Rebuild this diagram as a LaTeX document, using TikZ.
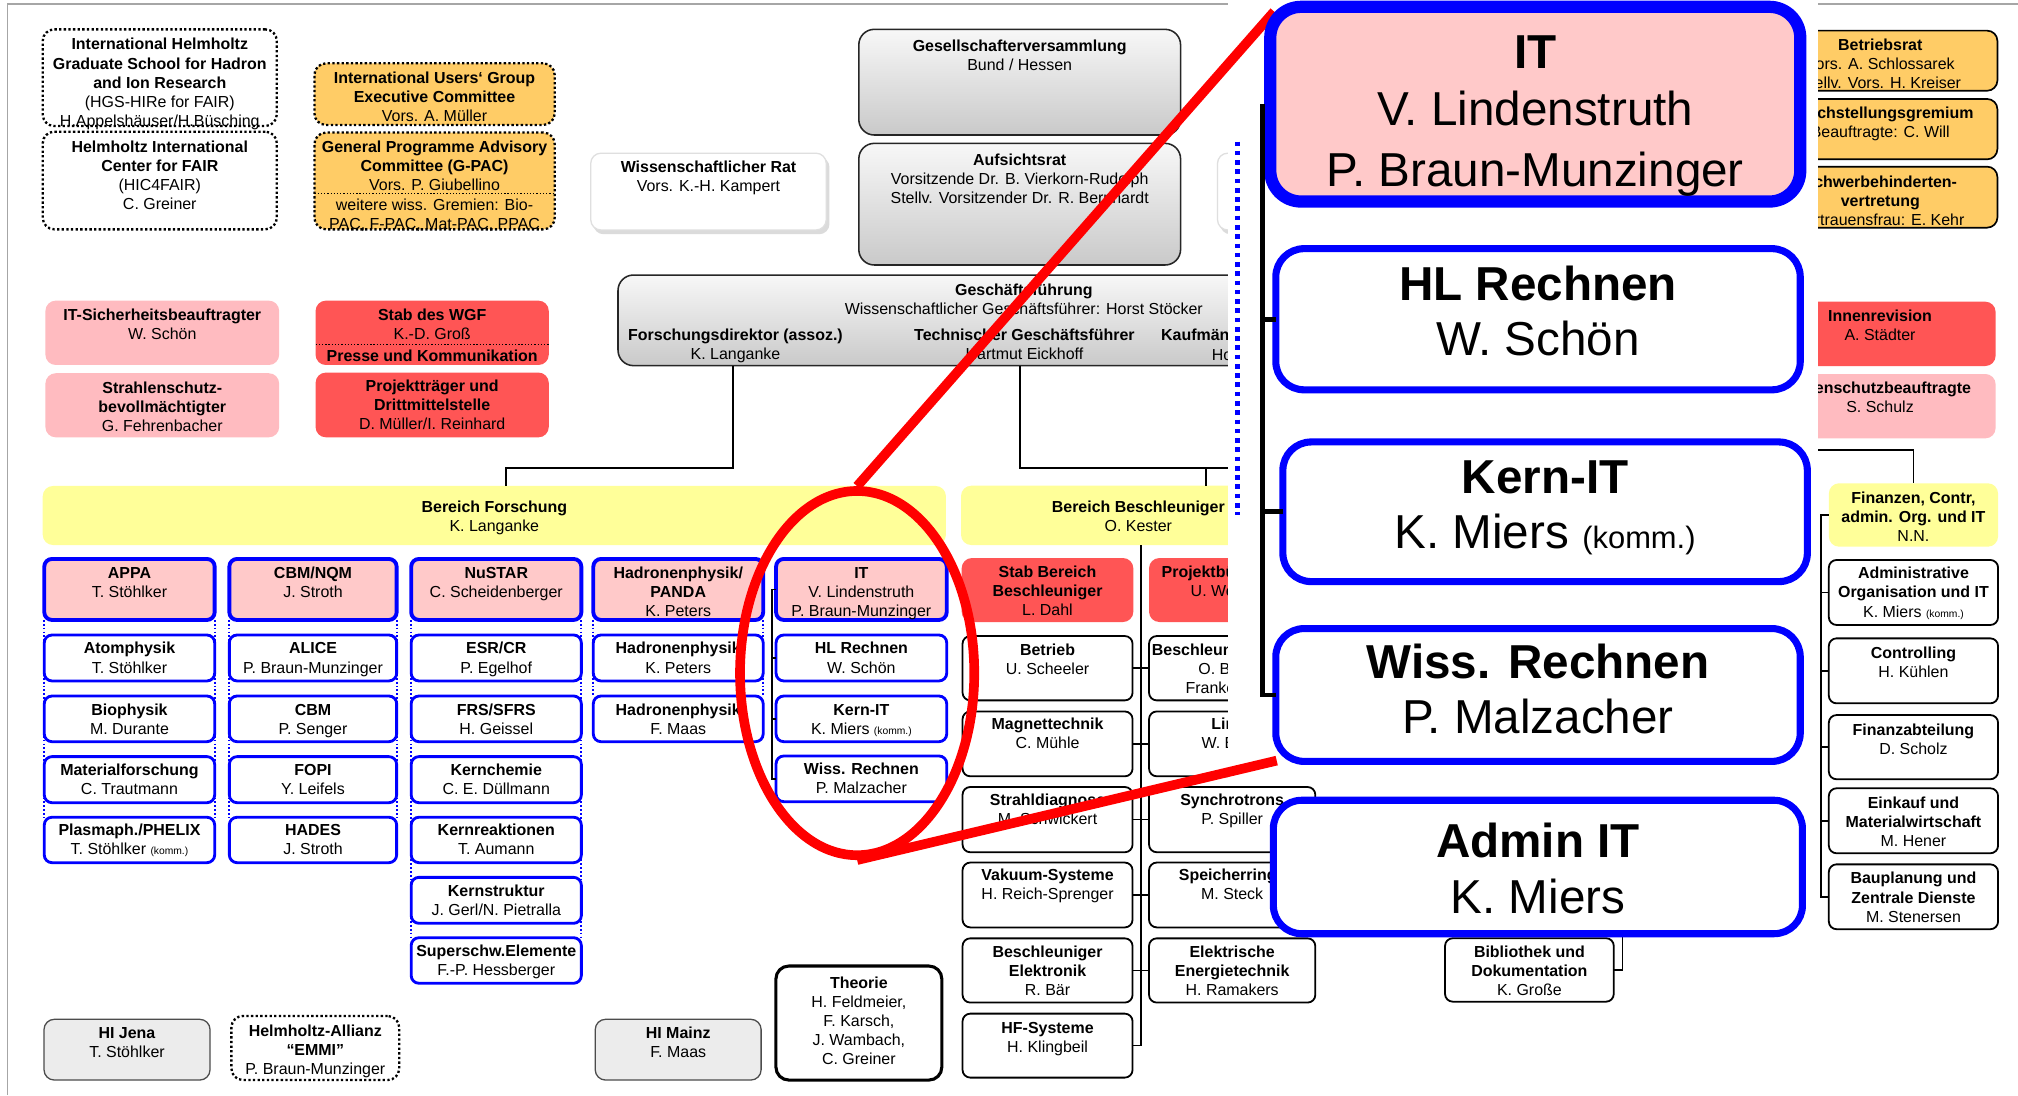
\documentclass[tikz,border=0pt]{standalone}
\usepackage{fontspec}
\setmainfont{Liberation Sans}
\usetikzlibrary{calc,shapes.geometric}
\definecolor{pinkL}{RGB}{255,187,192}
\definecolor{pinkH}{RGB}{255,201,201}
\definecolor{redB}{RGB}{255,85,85}
\definecolor{yelB}{RGB}{255,255,153}
\definecolor{orB}{RGB}{255,204,102}
\definecolor{grayF}{RGB}{236,236,236}
\tikzset{
 txt/.style={font=\fontsize{12.4}{14.8}\selectfont, align=center, inner sep=0pt, outer sep=0pt},
 bigt/.style={font=\fontsize{37}{44}\selectfont, inner sep=0pt, anchor=base},
 shp/.style={rectangle, inner sep=0pt, outer sep=0pt, rounded corners=6},
 fbx/.style={shp, draw=blue, line width=2.2, fill=white},
 fhd/.style={shp, draw=blue, line width=3, fill=pinkH},
 bbx/.style={shp, draw=black, line width=1.4, fill=white},
 gbx/.style={shp, rounded corners=12, draw=black!85, line width=1.2, top color=gray!6, bottom color=gray!42},
 dbx/.style={shp, rounded corners=9, draw=black, line width=1.8, dash pattern=on 1.8pt off 1.8pt, fill=white},
 obx/.style={shp, rounded corners=9, draw=black, line width=1.8, dash pattern=on 1.8pt off 1.8pt, fill=orB},
 osx/.style={shp, rounded corners=8, draw=black, line width=1.3, fill=orB},
 lpk/.style={shp, rounded corners=8, fill=pinkL},
 rdb/.style={shp, rounded corners=8, fill=redB},
 ylw/.style={shp, rounded corners=8, fill=yelB},
 hib/.style={shp, rounded corners=8, draw=black!70, line width=1, fill=grayF},
 thb/.style={shp, rounded corners=10, draw=black, line width=2.4, fill=white},
 wrb/.style={shp, rounded corners=8, draw=gray!25, line width=1, fill=white},
 conn/.style={draw=black, line width=1.6},
 bdot/.style={draw=blue, line width=1.4, dash pattern=on 1.4pt off 1.6pt},
 sepl/.style={draw=black, line width=0.9, dash pattern=on 1pt off 1.5pt},
 bigb/.style={shp, rounded corners=22, draw=blue, line width=5.5, fill=white, anchor=north west},
 bigtree/.style={draw=black, line width=3.6},
 redl/.style={draw=red, line width=7.5},
}
% name, style, x1, y1, x2, y2, first-line centre y, text
\newcommand\orgbox[8]{%
  \node[#2, anchor=north west, minimum width={(#5)-(#3)}, minimum height={(#6)-(#4)}] (#1) at (#3,#4) {};
  \node[txt, anchor=north] (#1-t) at ({((#3)+(#5))/2},{(#7)-5.92}) {\strut #8};
}
\newcommand\kmm{{\fontsize{8}{9}\selectfont (komm.)}}
\begin{document}
\begin{tikzpicture}[x=1pt,y=-1pt]
\fill[white] (0,0) rectangle (1568,851);
\useasboundingbox (0,0) rectangle (1568,851);

\begin{scope}
\clip (0,0) -- (954,0) -- (954,605) -- (1412.6,605) -- (1412.6,0) -- (1568,0) -- (1568,851) -- (0,851) -- cycle;
\draw[gray!70, line width=1.2] (5.7,851) -- (5.7,3.1) -- (1568,3.1);

% top left
\orgbox{hgs}{dbx}{33.2}{22.8}{215.1}{97.9}{34.4}{\textbf{International Helmholtz}\\\textbf{Graduate School for Hadron}\\\textbf{and Ion Research}\\(HGS-HIRe for FAIR)\\H.Appelshäuser/H.Büsching}
\orgbox{hic}{dbx}{33.2}{102.3}{215.1}{178.2}{114}{\textbf{Helmholtz International}\\\textbf{Center for FAIR}\\(HIC4FAIR)\\C. Greiner}
\orgbox{iug}{obx}{244.3}{49.2}{431}{97.1}{60.3}{\textbf{International Users‘ Group}\\\textbf{Executive Committee}\\Vors. A. Müller}
\orgbox{gpac}{obx}{244.3}{103}{431}{178.2}{114}{\textbf{General Programme Advisory}\\\textbf{Committee (G-PAC)}\\Vors. P. Giubellino}
\draw[sepl] (gpac.west |- 0,150.2) -- (gpac.east |- 0,150.2);
\node[txt, anchor=north] (gpac-t2) at (337.65,{159-5.92}) {\strut weitere wiss. Gremien: Bio-\\PAC, F-PAC, Mat-PAC, PPAC};

% Wiss Rat
\fill[gray!28, rounded corners=8] (461,122) rectangle (644.5,182);
\orgbox{wr}{wrb}{459}{119}{642}{178.7}{129.5}{\textbf{Wissenschaftlicher Rat}\\Vors. K.-H. Kampert}
\fill[gray!28, rounded corners=8] (948,122) rectangle (1131,182);
\node[wrb, anchor=north west, minimum width=183, minimum height=59.7] (wr2) at (946,119) {};

\orgbox{gv}{gbx}{667.3}{22.8}{917.3}{104.9}{35.7}{\textbf{Gesellschafterversammlung}\\Bund / Hessen}
\orgbox{ar}{gbx}{667.3}{111.4}{917.3}{205.9}{124.3}{\textbf{Aufsichtsrat}\\Vorsitzende Dr. B. Vierkorn-Rudolph\\Stellv. Vorsitzender Dr. R. Bernhardt}

% Geschaeftsfuehrung
\node[gbx, anchor=north west, minimum width=630, minimum height=70.4] (gf) at (480.2,213.7) {};
\node[txt, anchor=north] (gf-t) at (795.5,{224.8-5.92}) {\strut\textbf{Geschäftsführung}\\Wissenschaftlicher Geschäftsführer: Horst Stöcker};
\node[txt, anchor=north] (gf-f) at (571.5,{260.3-5.92}) {\strut\textbf{Forschungsdirektor (assoz.)}\\K. Langanke};
\node[txt, anchor=north] (gf-tg) at (796,{260.3-5.92}) {\strut\textbf{Technischer Geschäftsführer}\\Hartmut Eickhoff};
\node[txt, anchor=north west] (gf-k) at (902.2,{260.3-5.92}) {\strut\textbf{Kaufmännischer Geschäftsführer}};
\node[txt, anchor=north west] (gf-k2) at (941.6,{275.3-5.92}) {\strut Ho};

% staff boxes left
\orgbox{its}{lpk}{35.3}{233.6}{216.9}{283.6}{244.2}{\textbf{IT-Sicherheitsbeauftragter}\\W. Schön}
\orgbox{sts}{lpk}{35.3}{290}{216.9}{339.8}{301}{\textbf{Strahlenschutz-}\\\textbf{bevollmächtigter}\\G. Fehrenbacher}
\orgbox{wgf}{rdb}{245.2}{233.6}{426.4}{283.6}{244.2}{\textbf{Stab des WGF}\\K.-D. Groß}
\draw[sepl] (wgf.west |- 0,267.5) -- (wgf.east |- 0,267.5);
\node[txt, anchor=north] (wgf-t2) at (335.8,{276.6-5.92}) {\strut\textbf{Presse und Kommunikation}};
\orgbox{ptr}{rdb}{245.2}{289.5}{426.4}{339.8}{299.9}{\textbf{Projektträger und}\\\textbf{Drittmittelstelle}\\D. Müller/I. Reinhard}

% bars
\orgbox{bf}{ylw}{33.2}{377.6}{735}{423.5}{393.7}{\textbf{Bereich Forschung}\\K. Langanke}
\orgbox{bb}{ylw}{746.7}{377.4}{1022.3}{423.5}{393.7}{\textbf{Bereich Beschleuniger}\\O. Kester}

\coordinate (gfA) at (569.2,284.1);
\coordinate (bfA) at (393.3,377.6);
\draw[conn] (gfA) -- ++(0,79.5) -| (bfA);
\coordinate (gfB) at (792.6,284.1);
\coordinate (bbA) at (937,377.4);
\draw[conn] (gfB) -- ++(0,79.5) -| (bbA);
\draw[conn] (bbA) ++(0,-13.8) -- ++(220,0);

% Forschung columns
\orgbox{appa}{fhd}{34.4}{434.3}{166.8}{481.7}{444.7}{\textbf{APPA}\\T. Stöhlker}
\orgbox{atom}{fbx}{34.4}{493.4}{166.8}{529.1}{503.7}{\textbf{Atomphysik}\\T. Stöhlker}
\orgbox{bio}{fbx}{34.4}{540.8}{166.8}{576.3}{551.3}{\textbf{Biophysik}\\M. Durante}
\orgbox{mat}{fbx}{34.4}{587.9}{166.8}{623.7}{598.3}{\textbf{Materialforschung}\\C. Trautmann}
\orgbox{pla}{fbx}{34.4}{635}{166.8}{670.3}{645}{\textbf{Plasmaph./PHELIX}\\T. Stöhlker \kmm}

\orgbox{cbmn}{fhd}{178.2}{434.3}{308.2}{481.7}{444.7}{\textbf{CBM/NQM}\\J. Stroth}
\orgbox{alice}{fbx}{178.2}{493.4}{308.2}{529.1}{503.7}{\textbf{ALICE}\\P. Braun-Munzinger}
\orgbox{cbm}{fbx}{178.2}{540.8}{308.2}{576.3}{551.3}{\textbf{CBM}\\P. Senger}
\orgbox{fopi}{fbx}{178.2}{587.9}{308.2}{623.7}{598.3}{\textbf{FOPI}\\Y. Leifels}
\orgbox{hades}{fbx}{178.2}{635}{308.2}{670.3}{645}{\textbf{HADES}\\J. Stroth}

\orgbox{nustar}{fhd}{319.5}{434.3}{451.7}{481.7}{444.7}{\textbf{NuSTAR}\\C. Scheidenberger}
\orgbox{esr}{fbx}{319.5}{493.4}{451.7}{529.1}{503.7}{\textbf{ESR/CR}\\P. Egelhof}
\orgbox{frs}{fbx}{319.5}{540.8}{451.7}{576.3}{551.3}{\textbf{FRS/SFRS}\\H. Geissel}
\orgbox{kch}{fbx}{319.5}{587.9}{451.7}{623.7}{598.3}{\textbf{Kernchemie}\\C. E. Düllmann}
\orgbox{kre}{fbx}{319.5}{635}{451.7}{670.3}{645}{\textbf{Kernreaktionen}\\T. Aumann}
\orgbox{kst}{fbx}{319.5}{681.7}{451.7}{717.4}{692.3}{\textbf{Kernstruktur}\\J. Gerl/N. Pietralla}
\orgbox{she}{fbx}{319.5}{728.6}{451.7}{764}{739}{\textbf{Superschw.Elemente}\\F.-P. Hessberger}

\orgbox{panda}{fhd}{461}{434.3}{593}{481.7}{444.7}{\textbf{Hadronenphysik/}\\\textbf{PANDA}\\K. Peters}
\orgbox{had1}{fbx}{461}{493.4}{593}{529.1}{503.7}{\textbf{Hadronenphysik}\\K. Peters}
\orgbox{had2}{fbx}{461}{540.8}{593}{576.3}{551.3}{\textbf{Hadronenphysik}\\F. Maas}

\orgbox{ith}{fhd}{603}{434.3}{735.6}{481.7}{444.7}{\textbf{IT}\\V. Lindenstruth\\P. Braun-Munzinger}
\orgbox{ithl}{fbx}{603}{493.4}{735.6}{529.1}{503.7}{\textbf{HL Rechnen}\\W. Schön}
\orgbox{itk}{fbx}{603}{540.8}{735.6}{576.3}{551.3}{\textbf{Kern-IT}\\K. Miers \kmm}
\orgbox{itw}{fbx}{603}{587.4}{735.6}{622.9}{597}{\textbf{Wiss. Rechnen}\\P. Malzacher}

\foreach \a/\b in {appa/pla, cbmn/hades, nustar/she, panda/had2} {
  \draw[bdot] (\a.south west) -- (\b.north west);
  \draw[bdot] (\a.south east) -- (\b.north east);
}
\coordinate (sitx) at (599.6,0);
\draw[conn, line width=1.3] (ith.west) -- (sitx |- ith.west) -- (sitx |- itw.west) -- (itw.west);
\foreach \n in {ithl, itk} \draw[conn, line width=1.3] (sitx |- \n.west) -- (\n.west);

% Beschleuniger
\orgbox{sbb}{rdb}{747.2}{433.6}{880.6}{483.3}{444.4}{\textbf{Stab Bereich}\\\textbf{Beschleuniger}\\L. Dahl}
\node[rdb, anchor=north west, minimum width=133.4, minimum height=49.7] (pbu) at (892.8,433.6) {};
\node[txt, anchor=north west] (pbu-t) at (902.6,{444.4-5.92}) {\strut\textbf{Projektbüro}};
\node[txt, anchor=north west] (pbu-t2) at (925.2,{458.8-5.92}) {\strut U. Weinrich};

\orgbox{betr}{bbx}{747.9}{494.2}{880}{544.2}{504.9}{\textbf{Betrieb}\\U. Scheeler}
\orgbox{magn}{bbx}{747.9}{552.8}{880}{603.2}{562.6}{\textbf{Magnettechnik}\\C. Mühle}
\orgbox{strd}{bbx}{747.9}{611.5}{880}{662.2}{621.6}{\textbf{Strahldiagnose}\\M. Schwickert}
\orgbox{vak}{bbx}{747.9}{670.2}{880}{720.6}{680}{\textbf{Vakuum-Systeme}\\H. Reich-Sprenger}
\orgbox{bel}{bbx}{747.9}{729.1}{880}{779}{739.3}{\textbf{Beschleuniger}\\\textbf{Elektronik}\\R. Bär}
\orgbox{hfs}{bbx}{747.9}{787.6}{880}{837.3}{798.3}{\textbf{HF-Systeme}\\H. Klingbeil}
\orgbox{bph}{bbx}{892.8}{494.2}{1022}{544.2}{504.9}{\textbf{Beschleunigerphysik}\\O. Boine-\\Frankenheim}
\orgbox{lin}{bbx}{892.8}{552.8}{1022}{603.2}{562.6}{\textbf{Linac}\\W. Barth}
\orgbox{syn}{bbx}{892.8}{611.5}{1022}{662.2}{621.6}{\textbf{Synchrotrons}\\P. Spiller}
\orgbox{spr}{bbx}{892.8}{670.2}{1022}{720.6}{680}{\textbf{Speicherringe}\\M. Steck}
\orgbox{eet}{bbx}{892.8}{729.1}{1022}{779}{739.3}{\textbf{Elektrische}\\\textbf{Energietechnik}\\H. Ramakers}
\coordinate (btx) at (886.3,0);
\draw[conn, line width=1.3] (bb.south -| btx) -- (btx |- hfs.east) -- (hfs.east);
\foreach \a/\b in {betr/bph, magn/lin, strd/syn, vak/spr, bel/eet} \draw[conn, line width=1.3] (\a.east) -- (\b.west);

\orgbox{bib}{bbx}{1122.8}{729}{1253.9}{778.3}{739.3}{\textbf{Bibliothek und}\\\textbf{Dokumentation}\\K. Große}
\coordinate (bibx) at (1260.7,700);
\draw[conn, line width=1.3] (bibx) |- (bib.east);

% right column
\orgbox{brat}{osx}{1370}{23.8}{1552}{70.5}{35}{\textbf{Betriebsrat}\\Vors. A. Schlossarek\\Stellv. Vors. H. Kreiser}
\orgbox{glg}{osx}{1370}{76.9}{1552}{123.8}{87.5}{\textbf{Gleichstellungsgremium}\\Beauftragte: C. Will}
\orgbox{swb}{osx}{1370}{129.5}{1552}{176.9}{141.2}{\textbf{Schwerbehinderten-}\\\textbf{vertretung}\\Vertrauensfrau: E. Kehr}
\orgbox{irev}{rdb}{1371}{234.4}{1550.6}{284.4}{245.3}{\textbf{Innenrevision}\\A. Städter}
\orgbox{dsb}{lpk}{1371}{290.6}{1550.6}{340.6}{301.1}{\textbf{Datenschutzbeauftragte}\\S. Schulz}

\orgbox{fin}{ylw}{1421}{375.5}{1552.5}{424.8}{386.4}{\textbf{Finanzen, Contr,}\\\textbf{admin. Org. und IT}\\N.N.}
\orgbox{aorg}{bbx}{1421}{435.1}{1552.5}{485.6}{445.4}{\textbf{Administrative}\\\textbf{Organisation und IT}\\K. Miers \kmm}
\orgbox{ctr}{bbx}{1421}{496}{1552.5}{546.5}{507.4}{\textbf{Controlling}\\H. Kühlen}
\orgbox{fab}{bbx}{1421}{555.6}{1552.5}{605.5}{566.8}{\textbf{Finanzabteilung}\\D. Scholz}
\orgbox{ein}{bbx}{1421}{612.5}{1552.5}{663}{623.4}{\textbf{Einkauf und}\\\textbf{Materialwirtschaft}\\M. Hener}
\orgbox{bau}{bbx}{1421}{671.6}{1552.5}{722}{682.4}{\textbf{Bauplanung und}\\\textbf{Zentrale Dienste}\\M. Stenersen}
\coordinate (kA) at (1300,349.4);
\draw[conn, line width=1.3] (kA) -| (fin.north);
\coordinate (ktx) at (1414.7,0);
\draw[conn, line width=1.3] (fin.west) -- (ktx |- fin.west) -- (ktx |- bau.west) -- (bau.west);
\foreach \n in {aorg,ctr,fab,ein} \draw[conn, line width=1.3] (ktx |- \n.west) -- (\n.west);

% bottom
\orgbox{jena}{hib}{34.2}{792}{163.2}{839.2}{802.4}{\textbf{HI Jena}\\T. Stöhlker}
\orgbox{emmi}{dbx}{179.8}{789.4}{310.2}{839.2}{800.8}{\textbf{Helmholtz-Allianz}\\\textbf{“EMMI”}\\P. Braun-Munzinger}
\orgbox{mainz}{hib}{462.5}{792}{591.4}{839.2}{802.4}{\textbf{HI Mainz}\\F. Maas}
\orgbox{theo}{thb}{602.9}{750.6}{731.8}{839.2}{763.5}{\textbf{Theorie}\\H. Feldmeier,\\F. Karsch,\\J. Wambach,\\C. Greiner}
\end{scope}

% red highlight
\node[ellipse, draw=red, line width=7.5, minimum width=182, minimum height=283, inner sep=0pt] (circ) at (666,523) {};
\coordinate (z1) at (990,9);
\coordinate (z2) at (992,591);
\draw[redl] (circ.north) -- (z1);
\draw[redl] (circ.south) -- (z2);

% magnified panel
\coordinate (bd1) at (961.3,110);
\coordinate (bd2) at (961.3,400);
\draw[draw=blue, line width=3.6, dash pattern=on 3.6pt off 3.6pt] (bd1) -- (bd2);

\node[bigb, fill=pinkH, line width=9.5, rounded corners=24, minimum width=411.8, minimum height=151.3] (itB) at (987,5.3) {};
\node[bigb, minimum width=407.5, minimum height=109.7] (hlB) at (991.3,193.2) {};
\node[bigb, minimum width=407.5, minimum height=108.5] (kernB) at (996.8,343.4) {};
\node[bigb, minimum width=407.5, minimum height=103.2] (wissB) at (991.3,488.4) {};
\coordinate (btx2) at (980.9,0);
\draw[bigtree] (itB.west -| btx2) -- (btx2 |- wissB.west) -- (wissB.west);
\foreach \n in {hlB, kernB} \draw[bigtree] (btx2 |- \n.west) -- (\n.west);

\node[bigt] (itB-1) at (1192.9,53.45) {\textbf{IT}};
\node[bigt] (itB-2) at (1192.9,97.45) {V. Lindenstruth};
\node[bigt] (itB-3) at (1192.9,145.25) {P. Braun-Munzinger};
\node[bigt] (hlB-1) at (1195,233.45) {\textbf{HL Rechnen}};
\node[bigt] (hlB-2) at (1195,276.15) {W. Schön};
\node[bigt] (kernB-1) at (1200.5,383.65) {\textbf{Kern-IT}};
\node[bigt] (kernB-2) at (1200.5,426.35) {K. Miers {\fontsize{24}{28}\selectfont (komm.)}};
\node[bigt] (wissB-1) at (1195,527.35) {\textbf{Wiss. Rechnen}};
\node[bigt] (wissB-2) at (1195,570.15) {P. Malzacher};

\node[bigb, minimum width=411.1, minimum height=103.7] (admB) at (989.4,621.8) {};
\node[bigt] (admB-1) at (1195,665.95) {\textbf{Admin IT}};
\node[bigt] (admB-2) at (1195,709.95) {K. Miers};
\end{tikzpicture}
\end{document}
